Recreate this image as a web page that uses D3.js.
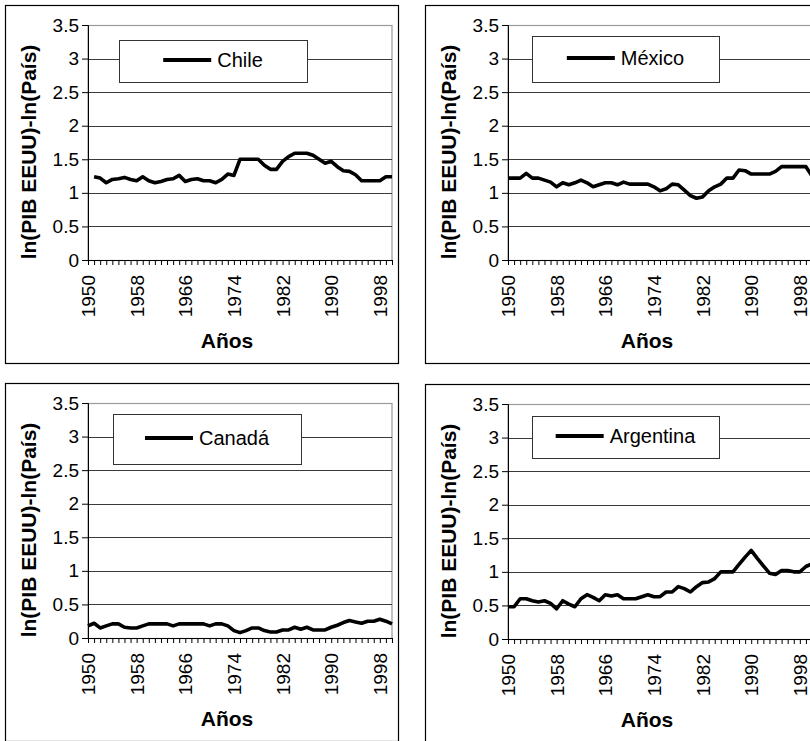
<!DOCTYPE html>
<html><head><meta charset="utf-8">
<script src="https://cdn.jsdelivr.net/npm/d3@7"></script>
<style>body{margin:0;background:#fff} svg{display:block}</style>
</head><body>
<svg id="c" width="810" height="741"></svg>
<script>
const years = [1950,1951,1952,1953,1954,1955,1956,1957,1958,1959,1960,1961,1962,1963,1964,1965,1966,1967,1968,1969,1970,1971,1972,1973,1974,1975,1976,1977,1978,1979,1980,1981,1982,1983,1984,1985,1986,1987,1988,1989,1990,1991,1992,1993,1994,1995,1996,1997,1998,1999,2000];
const chile = [null,1.24,1.22,1.15,1.20,1.21,1.23,1.20,1.18,1.24,1.18,1.15,1.17,1.20,1.21,1.26,1.17,1.20,1.21,1.18,1.18,1.15,1.20,1.28,1.26,1.50,1.50,1.50,1.50,1.41,1.35,1.35,1.47,1.54,1.59,1.59,1.59,1.56,1.50,1.44,1.47,1.39,1.33,1.32,1.27,1.18,1.18,1.18,1.18,1.24,1.24];
const mexico = [1.22,1.22,1.22,1.29,1.22,1.22,1.19,1.16,1.09,1.15,1.12,1.15,1.19,1.15,1.09,1.12,1.15,1.15,1.12,1.16,1.13,1.13,1.13,1.13,1.09,1.03,1.06,1.13,1.12,1.04,0.96,0.92,0.94,1.03,1.09,1.13,1.22,1.22,1.34,1.33,1.28,1.28,1.28,1.28,1.32,1.39,1.39,1.39,1.39,1.39,1.25];
const canada = [0.18,0.22,0.15,0.18,0.21,0.21,0.16,0.15,0.15,0.18,0.21,0.21,0.21,0.21,0.18,0.21,0.21,0.21,0.21,0.21,0.18,0.21,0.21,0.18,0.11,0.08,0.11,0.15,0.15,0.11,0.09,0.09,0.12,0.12,0.16,0.13,0.16,0.12,0.12,0.12,0.16,0.19,0.23,0.26,0.24,0.22,0.25,0.25,0.28,0.25,0.21];
const argentina = [0.48,0.48,0.60,0.60,0.57,0.55,0.57,0.53,0.45,0.57,0.52,0.48,0.60,0.66,0.62,0.57,0.66,0.64,0.66,0.60,0.60,0.60,0.63,0.66,0.63,0.63,0.70,0.70,0.78,0.75,0.70,0.78,0.84,0.85,0.90,1.00,1.00,1.00,1.11,1.22,1.32,1.20,1.09,0.98,0.96,1.02,1.02,1.00,1.00,1.08,1.12];
const countries = ["Chile","México","Canadá","Argentina"];
const yTicks = [0,0.5,1,1.5,2,2.5,3,3.5];
const yTickLabels = ["0","0.5","1","1.5","2","2.5","3","3.5"];
const xTickLabels = ["1950","1958","1966","1974","1982","1990","1998"];
const yTitle = "ln(PIB EEUU)-ln(País)";
const xTitle = "Años";

const series = [chile, mexico, canada, argentina];
const layout = [
  {ox:5, oy:5, lg:[114,35,188,42]},
  {ox:425, oy:5, lg:[107,31,187,46]},
  {ox:5, oy:383, lg:[108,31,188,50]},
  {ox:425, oy:384, lg:[107,32,187,42]}
];
const W = 393, H = 358, PX = 83, PY = 20, PW = 304, PH = 235;
const FONT = "'Liberation Sans', Arial, sans-serif";

const svg = d3.select("#c");
const x = d3.scalePoint().domain(years).range([0, PW]);
const y = d3.scaleLinear().domain([0, 3.5]).range([PH, 0]);

series.forEach((vals, k) => {
  const L = layout[k];
  const g = svg.append("g").attr("transform", `translate(${L.ox},${L.oy})`);
  g.append("rect").attr("x",0.5).attr("y",0.5).attr("width",W).attr("height",H)
    .attr("fill","#fff").attr("stroke","#000").attr("stroke-width",1.2);

  const p = g.append("g").attr("transform", `translate(${PX},${PY})`);
  // plot border (gray)
  p.append("rect").attr("x",0).attr("y",0.5).attr("width",PW).attr("height",PH)
    .attr("fill","none").attr("stroke","#9a9a9a").attr("stroke-width",1.2);
  // gridlines
  p.selectAll("line.grid").data(yTicks.filter(v => v > 0 && v < 3.5)).enter().append("line")
    .attr("class","grid").attr("x1",0).attr("x2",PW)
    .attr("y1", d => Math.round(y(d)) + 0.5).attr("y2", d => Math.round(y(d)) + 0.5)
    .attr("stroke","#3a3a3a").attr("stroke-width",1);

  // y axis
  const ya = p.append("g").call(d3.axisLeft(y).tickValues(yTicks).tickSize(6).tickPadding(3)
      .tickFormat((d,i) => yTickLabels[i]));
  ya.selectAll("text").attr("font-family", FONT).attr("font-size", 19).attr("fill","#000");
  ya.select(".domain").attr("stroke","#000");

  // x axis
  const xa = p.append("g").attr("transform", `translate(0,${PH})`)
    .call(d3.axisBottom(x).tickValues(years).tickSize(5)
      .tickFormat(d => xTickLabels.includes(String(d)) ? String(d) : ""));
  xa.select(".domain").attr("stroke","#000");
  xa.selectAll("text").attr("font-family", FONT).attr("font-size", 19).attr("fill","#000")
    .attr("transform","rotate(-90)").attr("text-anchor","end")
    .attr("x",-15).attr("y",0).attr("dy","0.35em");

  // data line
  const line = d3.line().defined(d => d != null)
    .x((d,i) => x(years[i])).y(d => y(d));
  p.append("path").datum(vals).attr("d", line)
    .attr("fill","none").attr("stroke","#000").attr("stroke-width",3.6)
    .attr("stroke-linejoin","round");

  // legend
  const [lx, ly, lw, lh] = L.lg;
  g.append("rect").attr("x", lx + 0.5).attr("y", ly + 0.5).attr("width", lw).attr("height", lh)
    .attr("fill","#fff").attr("stroke","#333").attr("stroke-width",1);
  const lt = g.append("text").text(countries[k]).attr("font-family", FONT).attr("font-size", 20)
    .attr("dy","0.35em").attr("y", ly + lh/2 - 1);
  const tw = lt.node().getComputedTextLength();
  const content = 48 + 6 + tw;
  const sx = lx + (lw - content) / 2;
  g.append("line").attr("x1", sx).attr("x2", sx + 48)
    .attr("y1", ly + lh/2 - 1).attr("y2", ly + lh/2 - 1)
    .attr("stroke","#000").attr("stroke-width",4);
  lt.attr("x", sx + 54);

  // titles
  g.append("text").text(yTitle).attr("font-family", FONT).attr("font-size", 21)
    .attr("font-weight","bold").attr("text-anchor","middle")
    .attr("transform", `translate(31,147) rotate(-90)`);
  g.append("text").text(xTitle).attr("font-family", FONT).attr("font-size", 21)
    .attr("font-weight","bold").attr("text-anchor","middle")
    .attr("x", 222).attr("y", 343);
});
</script>
</body></html>
